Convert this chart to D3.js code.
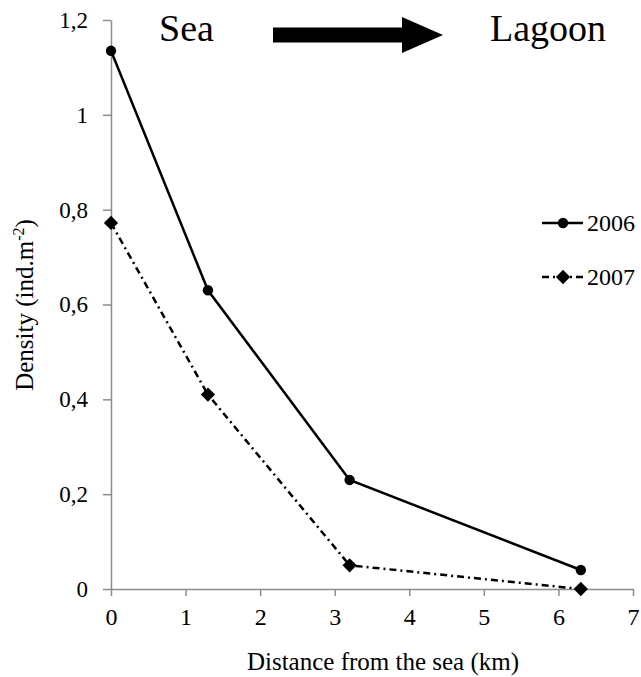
<!DOCTYPE html>
<html><head><meta charset="utf-8">
<script src="https://cdn.jsdelivr.net/npm/d3@7/dist/d3.min.js"></script>
<style>
html,body{margin:0;padding:0;background:#fff;}
svg{display:block;}
</style></head>
<body>
<script>
const distances = [0, 1.3, 3.2, 6.3];
const density2006 = [1.135, 0.63, 0.23, 0.04];
const density2007 = [0.772, 0.41, 0.05, 0.0];
const seriesNames = ["2006", "2007"];
const xTicks = [0, 1, 2, 3, 4, 5, 6, 7];
const yTicks = [0, 0.2, 0.4, 0.6, 0.8, 1, 1.2];
const yTickLabels = ["0", "0,2", "0,4", "0,6", "0,8", "1", "1,2"];
const xTitle = "Distance from the sea (km)";
const headerLeft = "Sea", headerRight = "Lagoon";

const FONT = "'Liberation Serif', 'Times New Roman', 'DejaVu Serif', serif";
const W = 641, H = 677;
const svg = d3.select("body").append("svg").attr("width", W).attr("height", H)
  .style("font-family", FONT);

const x = d3.scaleLinear().domain([0, 7]).range([111, 633]);
const y = d3.scaleLinear().domain([0, 1.2]).range([589, 20]);

const axisColor = "#8c8c8c";

// X axis
const gx = svg.append("g").attr("transform", `translate(0,${y(0)})`)
  .call(d3.axisBottom(x).tickValues(xTicks).tickSize(7).tickSizeOuter(0).tickPadding(12)
        .tickFormat(d3.format("d")));
gx.attr("font-family", null).style("font-family", FONT);
gx.select(".domain").attr("stroke", axisColor).attr("stroke-width", 1.5);
gx.selectAll(".tick line").attr("stroke", axisColor).attr("stroke-width", 1.5);
gx.selectAll(".tick text").attr("font-size", 24).style("font-family", FONT).attr("fill", "#000");

// Y axis
const gy = svg.append("g").attr("transform", `translate(${x(0)},0)`)
  .call(d3.axisLeft(y).tickValues(yTicks).tickSize(8).tickSizeOuter(0).tickPadding(15)
        .tickFormat((d, i) => yTickLabels[i]));
gy.attr("font-family", null).style("font-family", FONT);
gy.select(".domain").attr("stroke", axisColor).attr("stroke-width", 1.5);
gy.selectAll(".tick line").attr("stroke", axisColor).attr("stroke-width", 1.5);
gy.selectAll(".tick text").attr("font-size", 23).style("font-family", FONT).attr("fill", "#000");

// Axis titles
svg.append("text").attr("x", 383).attr("y", 670).attr("text-anchor", "middle")
  .style("font-family", FONT).attr("font-size", 25).text(xTitle);

const yt = svg.append("text").attr("transform", "translate(33,305) rotate(-90)")
  .attr("text-anchor", "middle").style("font-family", FONT).attr("font-size", 25);
yt.append("tspan").text("Density (ind.m");
yt.append("tspan").attr("dy", -9).attr("font-size", 16).text("-2");
yt.append("tspan").attr("dy", 9).text(")");

// Lines
const line = d3.line().x(d => x(d[0])).y(d => y(d[1]));
const d06 = distances.map((d, i) => [d, density2006[i]]);
const d07 = distances.map((d, i) => [d, density2007[i]]);

svg.append("path").datum(d06).attr("d", line).attr("fill", "none")
  .attr("stroke", "#000").attr("stroke-width", 2.5);
svg.append("path").datum(d07).attr("d", line).attr("fill", "none")
  .attr("stroke", "#000").attr("stroke-width", 2.5).attr("stroke-dasharray", "7,4,2,4");

const circle = d3.symbol().type(d3.symbolCircle).size(85);
const diamond = d3.symbol().type(d3.symbolDiamond2).size(130);

svg.selectAll(".m06").data(d06).join("path").attr("class", "m06")
  .attr("transform", d => `translate(${x(d[0])},${y(d[1])})`).attr("d", circle).attr("fill", "#000");
svg.selectAll(".m07").data(d07).join("path").attr("class", "m07")
  .attr("transform", d => `translate(${x(d[0])},${y(d[1])})`).attr("d", diamond).attr("fill", "#000");

// Legend
const leg = svg.append("g");
[[223, circle, null], [277, diamond, "7,4,2,4"]].forEach(([ly, sym, dash], i) => {
  leg.append("line").attr("x1", 542).attr("x2", 583).attr("y1", ly).attr("y2", ly)
    .attr("stroke", "#000").attr("stroke-width", 2.5).attr("stroke-dasharray", dash);
  leg.append("path").attr("transform", `translate(563,${ly})`).attr("d", sym).attr("fill", "#000");
  leg.append("text").attr("x", 587).attr("y", ly + 8).style("font-family", FONT)
    .attr("font-size", 24).text(seriesNames[i]);
});

// Header
svg.append("text").attr("x", 159).attr("y", 41).style("font-family", FONT).attr("font-size", 38).text(headerLeft);
svg.append("text").attr("x", 490).attr("y", 41).style("font-family", FONT).attr("font-size", 38).text(headerRight);
const ay = 35;
const arrowPts = [[273, ay - 7.5], [402, ay - 7.5], [402, ay - 18], [443, ay], [402, ay + 18], [402, ay + 7.5], [273, ay + 7.5]];
svg.append("path").attr("d", d3.line()(arrowPts) + "Z").attr("fill", "#000");
</script>
</body></html>
